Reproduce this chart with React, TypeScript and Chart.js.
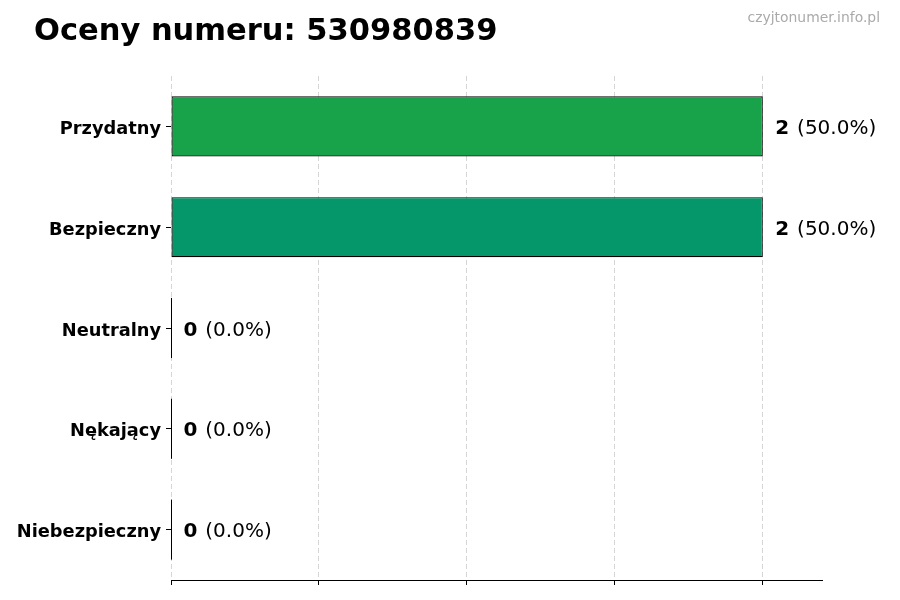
import React, { useEffect, useRef } from 'react';
import { Chart, registerables } from 'chart.js';
import type { Plugin } from 'chart.js';

Chart.register(...registerables);

const phoneNumber = '530980839';
const categories = ['Przydatny', 'Bezpieczny', 'Neutralny', 'Nękający', 'Niebezpieczny'];
const counts = [2, 2, 0, 0, 0];
const barColors = ['#18a34a', '#059669', '#6b7280', '#f97316', '#dc2626'];
const xTicks = [0, 0.5, 1, 1.5, 2];
const xMax = 2.2;

const FONT = "'DejaVu Sans', sans-serif";

const overlayPlugin: Plugin<'bar'> = {
  id: 'overlay',
  afterDraw(chart) {
    const ctx = chart.ctx;
    const meta = chart.getDatasetMeta(0);
    const total = counts.reduce((a, b) => a + b, 0);

    ctx.save();

    // title
    ctx.fillStyle = '#000';
    ctx.textAlign = 'left';
    ctx.textBaseline = 'alphabetic';
    ctx.font = `bold 30.5px ${FONT}`;
    ctx.fillText(`Oceny numeru: ${phoneNumber}`, 34, 40);

    // watermark
    ctx.fillStyle = '#aaaaaa';
    ctx.textAlign = 'right';
    ctx.font = `13.9px ${FONT}`;
    ctx.fillText('czyjtonumer.info.pl', 880, 22);

    // value labels + thin edge for empty bars
    meta.data.forEach((el, i) => {
      const { x, y, height } = el.getProps(['x', 'y', 'height'], true) as any;
      if (counts[i] === 0) {
        ctx.strokeStyle = '#000';
        ctx.lineWidth = 1;
        ctx.beginPath();
        ctx.moveTo(Math.round(x) + 0.5, y - height / 2);
        ctx.lineTo(Math.round(x) + 0.5, y + height / 2);
        ctx.stroke();
      }
      const pct = total ? (counts[i] / total) * 100 : 0;
      const tx = x + 12.5;
      const ty = y + 7.5;
      ctx.fillStyle = '#000';
      ctx.textAlign = 'left';
      ctx.font = `bold 20px ${FONT}`;
      const num = String(counts[i]);
      ctx.fillText(num, tx, ty);
      const w = ctx.measureText(num).width;
      ctx.font = `20px ${FONT}`;
      ctx.fillText(` (${pct.toFixed(1)}%)`, tx + w + 1.5, ty);
    });

    ctx.restore();
  },
};

export default function App() {
  const canvasRef = useRef<HTMLCanvasElement>(null);
  const chartRef = useRef<Chart<'bar'> | null>(null);

  useEffect(() => {
    document.body.style.margin = '0';
    if (!canvasRef.current) return;
    if (chartRef.current) chartRef.current.destroy();

    chartRef.current = new Chart(canvasRef.current, {
      type: 'bar',
      data: {
        labels: categories,
        datasets: [
          {
            data: counts,
            backgroundColor: barColors,
            borderColor: '#000',
            borderWidth: 1.2,
            borderSkipped: false,
            barPercentage: 0.596,
            categoryPercentage: 1,
          },
        ],
      },
      options: {
        indexAxis: 'y',
        animation: false,
        responsive: true,
        maintainAspectRatio: false,
        layout: { padding: { top: 76, right: 78, bottom: 0, left: 0 } },
        plugins: {
          legend: { display: false },
          tooltip: { enabled: false },
          title: { display: false },
        },
        scales: {
          x: {
            min: 0,
            max: xMax,
            z: 1,
            afterBuildTicks: (scale) => {
              scale.ticks = xTicks.map((v) => ({ value: v }));
            },
            afterFit: (scale) => {
              scale.height = 20;
            },
            ticks: { display: false },
            grid: {
              color: 'rgba(150,150,150,0.4)',
              lineWidth: 1,
              drawTicks: true,
              tickLength: 5,
              tickColor: '#000',
              tickWidth: 1,
              tickBorderDash: [],
            },
            border: { display: true, color: '#000', width: 1, dash: [5, 3] },
          },
          y: {
            afterFit: (scale) => {
              scale.width = 171;
            },
            ticks: {
              color: '#000',
              padding: 5,
              labelOffset: 3,
              font: { family: FONT, size: 17.8, weight: 'bold' },
            },
            grid: {
              offset: false,
              drawOnChartArea: false,
              drawTicks: true,
              tickLength: 5,
              tickColor: '#000',
              tickWidth: 1,
            },
            border: { display: false },
          },
        },
      },
      plugins: [overlayPlugin],
    });

    return () => {
      if (chartRef.current) {
        chartRef.current.destroy();
        chartRef.current = null;
      }
    };
  }, []);

  return (
    <div style={{ position: 'relative', width: 900, height: 600, background: '#fff' }}>
      <canvas ref={canvasRef}></canvas>
    </div>
  );
}
